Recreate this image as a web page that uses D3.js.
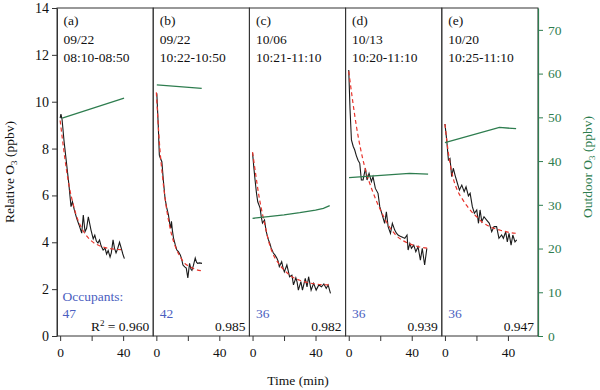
<!DOCTYPE html>
<html><head><meta charset="utf-8">
<script src="https://cdn.jsdelivr.net/npm/d3@7"></script>
<style>body{margin:0;background:#fff}svg{display:block}text{font-family:"Liberation Serif","Times New Roman",serif}</style>
</head><body><svg id="c" width="600" height="390"></svg>
<script>
// ---------- data ----------
const panelLetters = ["(a)","(b)","(c)","(d)","(e)"];
const panelDates = ["09/22","09/22","10/06","10/13","10/20"];
const panelTimes = ["08:10-08:50","10:22-10:50","10:21-11:10","10:20-11:10","10:25-11:10"];
const occupants = ["47","42","36","36","36"];
const r2Values = ["0.960","0.985","0.982","0.939","0.947"];
const leftTicks = [0,2,4,6,8,10,12,14];
const rightTicks = [0,10,20,30,40,50,60,70];
const timeTicks = [0,20,40];

// measured relative O3 (ppbv) [time min, value]
const obsA = [[0,9.3],[0.5,9.47],[1.2,9.25],[2.5,8.3],[4,7.4],[5.5,6.5],[6.9,5.52],[7.8,5.73],[9,5.38],[10.5,5.02],[12,4.74],[13.7,4.39],[14.7,5.16],[15.8,4.45],[16.8,4.6],[17.9,5.09],[19.6,4.52],[21,4.15],[22,4.3],[23,4.05],[24,3.97],[25,4.1],[26,3.85],[27.3,3.67],[28.5,3.75],[29.5,3.5],[30.5,3.65],[31.7,3.37],[32.5,3.55],[33.6,4.1],[34.5,3.75],[35.5,3.55],[36.4,3.7],[37.7,4.0],[38.8,3.75],[39.8,3.5],[40.8,3.3]];
const obsB = [[0.3,10.36],[1.2,9.0],[1.9,7.72],[2.5,7.6],[3.5,7.44],[4.5,6.6],[5.5,5.89],[6.5,5.5],[7.7,5.16],[8.5,4.8],[9.2,4.6],[9.6,4.9],[10.2,4.5],[10.9,4.18],[12,3.9],[13,3.67],[14,3.6],[15.2,3.46],[16,3.3],[16.9,3.03],[18,2.95],[19,2.9],[20,2.48],[21.1,3.1],[22,2.85],[22.6,2.8],[23.5,3.0],[24.7,3.33],[25.5,3.15],[26.2,3.1],[27.5,3.12],[29,3.1]];
const obsC = [[0,7.82],[0.8,7.2],[1.6,6.66],[2.5,6.1],[3.3,5.73],[4.8,5.46],[5.5,5.1],[6.3,4.82],[7.6,4.95],[8.5,4.52],[9.3,4.3],[10.1,4.1],[11,3.95],[11.8,3.76],[13.2,3.54],[14.3,3.45],[15.4,3.33],[16.2,3.2],[17,2.96],[18.5,3.17],[19.4,2.9],[20.2,2.74],[21.8,3.03],[22.6,2.8],[23.5,2.53],[25,2.6],[26,2.18],[27.5,2.48],[28.3,2.3],[29.1,1.96],[30.7,2.32],[31.7,1.96],[33.5,2.46],[34.6,2.1],[35.6,2.53],[37.2,1.96],[38.8,2.25],[40.4,1.96],[42.1,2.18],[43.8,2.1],[45.3,2.22],[46.8,2.03],[48,2.18],[49.5,1.82]];
const obsD = [[0,11.35],[0.8,9.7],[1.7,8.37],[2.8,8.1],[3.8,7.94],[4.8,7.7],[5.9,7.5],[7,7.37],[8,6.66],[9.1,6.66],[10.6,7.16],[11.6,6.66],[12.9,6.94],[14.4,6.59],[15.4,6.8],[16.9,6.3],[18.6,6.09],[19.7,5.52],[21.3,5.16],[22.8,4.81],[23.9,5.3],[25,4.67],[26.5,4.38],[27.7,4.81],[29.2,4.52],[30.2,4.4],[31.3,4.31],[32.4,4.27],[33.4,4.24],[34.5,4.2],[35.6,4.17],[37,4.31],[37.7,3.67],[38.8,3.95],[39.8,3.74],[41.3,3.88],[42.6,3.6],[44,3.81],[45.5,3.24],[46.7,3.74],[48.2,3.03],[49.6,3.74]];
const obsE = [[0,9.05],[1.1,8.37],[2.2,7.51],[3.2,7.58],[4.3,6.8],[5.3,7.16],[6.4,6.87],[7.9,6.52],[9.2,6.23],[10.7,6.44],[12.2,6.16],[13.4,6.37],[14.9,5.98],[16,6.09],[17.4,5.52],[18.7,5.24],[20.2,5.38],[21.3,4.81],[22.3,5.38],[23.4,4.88],[24.8,5.09],[26.5,4.95],[28.2,4.81],[29.7,4.45],[31.2,4.67],[32.8,4.67],[34.3,4.17],[36,4.31],[37.1,4.17],[38.6,4.45],[39.6,4.02],[40.7,4.38],[42,3.88],[43.1,4.31],[44.5,4.02],[45.6,4.1]];

// fitted decay (ppbv)
const fitA = [[0,9.2],[2,8.1],[4,7.1],[6,6.3],[8,5.7],[10,5.2],[13,4.7],[16,4.35],[20,4.05],[25,3.85],[30,3.75],[35,3.7],[40,3.68]];
const fitB = [[0,10.4],[2,8.2],[4,6.75],[6,5.65],[8,4.84],[10,4.25],[12,3.83],[15,3.4],[18,3.1],[21,2.97],[25,2.84],[29,2.78]];
const fitC = [[0,7.85],[2,6.9],[4,6.0],[6,5.3],[8,4.7],[10,4.1],[13,3.5],[16,3.15],[20,2.82],[25,2.53],[30,2.38],[35,2.28],[40,2.22],[45,2.19],[49,2.18]];
const fitD = [[0,11.3],[5,8.9],[10,7.25],[15,6.2],[20,5.4],[25,4.75],[30,4.3],[35,4.05],[40,3.9],[45,3.8],[50,3.75]];
const fitE = [[0,9.05],[2,7.9],[5,6.8],[8,6.2],[11,5.85],[14,5.55],[17,5.3],[20,5.1],[23,4.9],[27,4.72],[31,4.6],[36,4.5],[41,4.42],[46,4.38]];

// outdoor O3 (ppbv, right axis)
const outA = [[1.3,49.8],[40.6,54.4]];
const outB = [[0.3,57.4],[28.8,56.6]];
const outC = [[0,26.9],[10,27.3],[20,27.7],[30,28.2],[40,28.8],[45,29.2],[49,29.8]];
const outD = [[0.2,36.2],[38.6,37.2],[50.4,37.0]];
const outE = [[0,44.2],[34.6,47.7],[45.2,47.4]];

const observed = [obsA,obsB,obsC,obsD,obsE];
const fitted = [fitA,fitB,fitC,fitD,fitE];
const outdoor = [outA,outB,outC,outD,outE];

// ---------- layout ----------
const svg = d3.select("#c");
const L = 57, R = 538, T = 8, B = 336;
const pw = (R - L) / 5;
const GREEN = "#2e7d4f", BLUE = "#4a5ec0", RED = "#e8342c", AX = "#333";
const FS = 13.5;

const y = d3.scaleLinear().domain([0,14]).range([B,T]);
const yR = d3.scaleLinear().domain([0,75]).range([B,T]);

for (let i = 0; i < 5; i++) {
  const left = L + i*pw;
  const x = d3.scaleLinear().domain([-2,59.1]).range([left, left+pw]);
  const g = svg.append("g");

  g.append("rect").attr("x",left).attr("y",T).attr("width",pw).attr("height",B-T)
    .attr("fill","none").attr("stroke",AX).attr("stroke-width",1);

  const ax = d3.axisBottom(x).tickValues(timeTicks).tickSize(5).tickSizeOuter(0)
    .tickFormat(d => d === 20 ? "" : d);
  const ga = g.append("g").attr("transform",`translate(0,${B})`).call(ax);
  ga.select(".domain").remove();
  ga.selectAll("line").attr("stroke",AX);
  ga.selectAll("text").attr("font-size",FS).attr("fill","#111").attr("dy","0.95em");

  const lineL = d3.line().x(d=>x(d[0])).y(d=>y(d[1]));
  const lineF = d3.line().x(d=>x(d[0])).y(d=>y(d[1])).curve(d3.curveMonotoneX);
  const lineO = d3.line().x(d=>x(d[0])).y(d=>yR(d[1]));

  g.append("path").attr("d",lineL(observed[i])).attr("fill","none").attr("stroke","#1a1a1a").attr("stroke-width",1.1);
  g.append("path").attr("d",lineF(fitted[i])).attr("fill","none").attr("stroke",RED).attr("stroke-width",1.2).attr("stroke-dasharray","4,3");
  g.append("path").attr("d",lineO(outdoor[i])).attr("fill","none").attr("stroke",GREEN).attr("stroke-width",1.3);

  const tx = left + 6.5;
  g.append("text").attr("x",tx).attr("y",25).attr("font-size",FS).attr("fill","#111").text(panelLetters[i]);
  g.append("text").attr("x",tx).attr("y",44).attr("font-size",FS).attr("fill","#111").text(panelDates[i]);
  g.append("text").attr("x",tx).attr("y",62).attr("font-size",FS).attr("fill","#111").text(panelTimes[i]);

  if (i === 0) {
    g.append("text").attr("x",left+5.5).attr("y",301).attr("font-size",FS).attr("fill",BLUE).text("Occupants:");
  }
  g.append("text").attr("x",left+(i===0?5.5:6.5)).attr("y",318).attr("font-size",FS).attr("fill",BLUE).text(occupants[i]);

  const rt = g.append("text").attr("x",left+pw-4).attr("y",331).attr("font-size",FS).attr("fill","#111").attr("text-anchor","end");
  if (i === 0) {
    rt.append("tspan").text("R");
    rt.append("tspan").attr("font-size",9).attr("dy",-5).text("2");
    rt.append("tspan").attr("dy",5).text(" = " + r2Values[i]);
  } else {
    rt.text(r2Values[i]);
  }
}

const gl = svg.append("g").attr("transform",`translate(${L},0)`)
  .call(d3.axisLeft(y).tickValues(leftTicks).tickSize(5).tickSizeOuter(0).tickPadding(3));
gl.select(".domain").attr("stroke",AX);
gl.selectAll("line").attr("stroke",AX);
gl.selectAll("text").attr("font-size",FS+0.5).attr("fill","#111");

const gr = svg.append("g").attr("transform",`translate(${R},0)`)
  .call(d3.axisRight(yR).tickValues(rightTicks).tickSize(5).tickSizeOuter(0).tickPadding(5));
gr.select(".domain").attr("stroke",GREEN).attr("stroke-width",1.2);
gr.selectAll("line").attr("stroke",GREEN);
gr.selectAll("text").attr("font-size",FS).attr("fill",GREEN);

const yl = svg.append("text").attr("transform","translate(14,172) rotate(-90)")
  .attr("text-anchor","middle").attr("font-size",FS).attr("fill","#111");
yl.append("tspan").text("Relative O");
yl.append("tspan").attr("font-size",9).attr("dy",3).text("3");
yl.append("tspan").attr("dy",-3).text(" (ppbv)");

const yr = svg.append("text").attr("transform","translate(592,167) rotate(-90)")
  .attr("text-anchor","middle").attr("font-size",FS).attr("fill",GREEN);
yr.append("tspan").text("Outdoor O");
yr.append("tspan").attr("font-size",9).attr("dy",3).text("3");
yr.append("tspan").attr("dy",-3).text(" (ppbv)");

svg.append("text").attr("x",298).attr("y",385).attr("text-anchor","middle")
  .attr("font-size",FS).attr("fill","#111").text("Time (min)");
</script></body></html>
